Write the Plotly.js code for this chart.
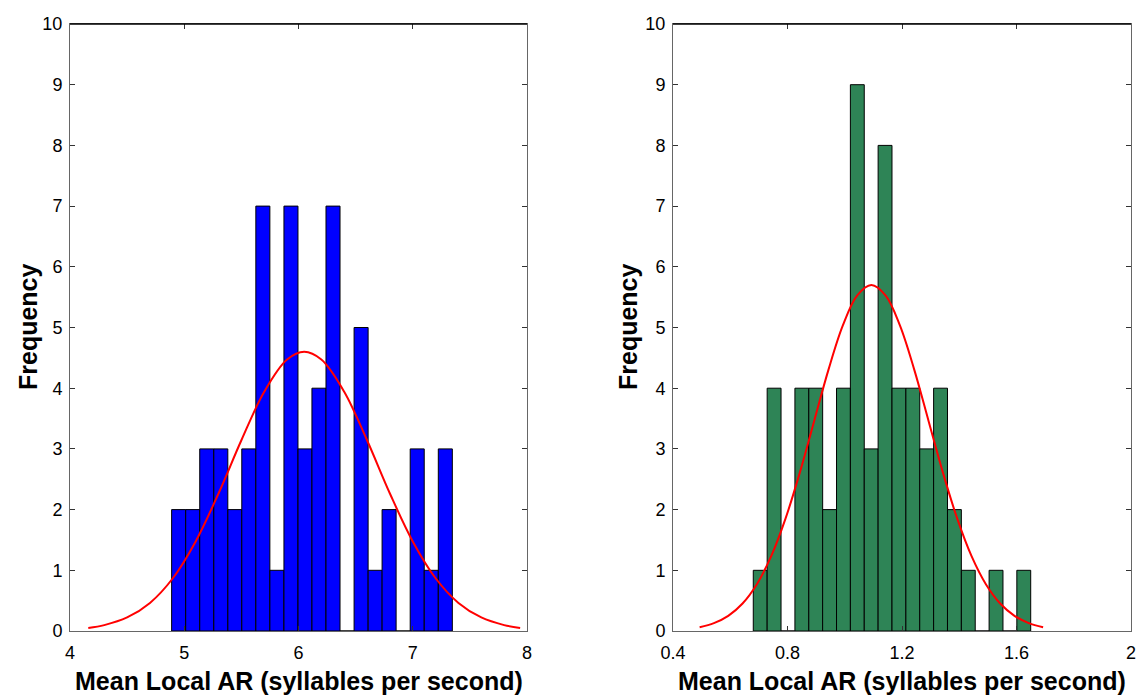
<!DOCTYPE html>
<html>
<head>
<meta charset="utf-8">
<script src="https://cdn.plot.ly/plotly-3.0.1.min.js"></script>
<style>html,body{margin:0;padding:0;background:#fff;}#chart{width:1137px;height:695px;}</style>
</head>
<body>
<div id="chart"></div>
<script>
// Left histogram (bin centres and counts)
const leftBins = [4.951, 5.074, 5.197, 5.320, 5.443, 5.565, 5.688, 5.811, 5.934, 6.057,
                  6.179, 6.302, 6.425, 6.548, 6.671, 6.793, 6.916, 7.039, 7.162, 7.285];
const leftCounts = [2, 2, 3, 3, 2, 3, 7, 1, 7, 3, 4, 7, 0, 5, 1, 2, 0, 3, 1, 3];
// Left fitted curve
const leftCurveX = [4.16, 4.3, 4.5, 4.7, 4.9, 5.1, 5.3, 5.5, 5.7, 5.9, 6.05,
                    6.2, 6.4, 6.6, 6.8, 7.0, 7.2, 7.4, 7.6, 7.8, 7.94];
const leftCurveY = [0.051, 0.097, 0.223, 0.463, 0.869, 1.476, 2.265, 3.142, 3.942, 4.472, 4.6,
                    4.472, 3.942, 3.142, 2.265, 1.476, 0.869, 0.463, 0.223, 0.097, 0.051];

// Right histogram
const rightBins = [0.7047, 0.7532, 0.8016, 0.8501, 0.8986, 0.9470, 0.9955, 1.0439, 1.0924, 1.1408,
                   1.1893, 1.2378, 1.2862, 1.3347, 1.3831, 1.4316, 1.4800, 1.5285, 1.5770, 1.6254];
const rightCounts = [1, 4, 0, 4, 4, 2, 4, 9, 3, 8, 4, 4, 3, 4, 2, 1, 0, 1, 0, 1];
// Right fitted curve
const rightCurveX = [0.493, 0.543, 0.593, 0.643, 0.693, 0.743, 0.793, 0.843, 0.893, 0.943, 0.993, 1.043, 1.093,
                     1.143, 1.193, 1.243, 1.293, 1.343, 1.393, 1.443, 1.493, 1.543, 1.593, 1.643, 1.693];
const rightCurveY = [0.063, 0.130, 0.250, 0.453, 0.771, 1.233, 1.851, 2.609, 3.457, 4.302, 5.030, 5.525, 5.7,
                     5.525, 5.030, 4.302, 3.457, 2.609, 1.851, 1.233, 0.771, 0.453, 0.250, 0.130, 0.063];

// Axis ticks
const yTicks = [0, 1, 2, 3, 4, 5, 6, 7, 8, 9, 10];
const leftXTicks = [4, 5, 6, 7, 8];
const leftXLabels = ['4', '5', '6', '7', '8'];
const rightXTicks = [0.4, 0.8, 1.2, 1.6, 2];
const rightXLabels = ['0.4', '0.8', '1.2', '1.6', '2'];
const xTitle = 'Mean Local AR (syllables per second)';
const yTitle = 'Frequency';

const FONT = 'Liberation Sans, Arial, sans-serif';
const W = 1137, H = 695;
const TICK_SIZE = 18, TITLE_SIZE = 25;

const traces = [
  {type: 'bar', x: leftBins, y: leftCounts, width: 0.1228, xaxis: 'x', yaxis: 'y',
   marker: {color: '#0000FF', line: {color: '#000000', width: 1}}, hoverinfo: 'skip'},
  {type: 'scatter', mode: 'lines', x: leftCurveX, y: leftCurveY, xaxis: 'x', yaxis: 'y',
   line: {color: '#FF0000', width: 2, shape: 'spline'}, hoverinfo: 'skip'},
  {type: 'bar', x: rightBins, y: rightCounts, width: 0.04846, xaxis: 'x2', yaxis: 'y2',
   marker: {color: '#2E8456', line: {color: '#000000', width: 1}}, hoverinfo: 'skip'},
  {type: 'scatter', mode: 'lines', x: rightCurveX, y: rightCurveY, xaxis: 'x2', yaxis: 'y2',
   line: {color: '#FF0000', width: 2, shape: 'spline'}, hoverinfo: 'skip'}
];

const yDom = [64 / H, 671 / H];
function xax(dom, rng, tv, tt) {
  return {domain: dom, range: rng, tickmode: 'array', tickvals: tv, ticktext: tt,
    showgrid: false, zeroline: false, showline: true, linecolor: '#666666', linewidth: 1,
    mirror: 'ticks', ticks: 'inside', ticklen: 5, tickcolor: '#333333',
    tickfont: {family: FONT, size: TICK_SIZE, color: '#000'}, ticklabelstandoff: 5, fixedrange: true};
}
function yax(anchor) {
  return {domain: yDom, range: [0, 10], tickmode: 'array', tickvals: yTicks, anchor: anchor,
    showgrid: false, zeroline: false, showline: true, linecolor: '#666666', linewidth: 1,
    mirror: 'ticks', ticks: 'inside', ticklen: 5, tickcolor: '#333333',
    tickfont: {family: FONT, size: TICK_SIZE, color: '#000'}, ticklabelstandoff: 3, fixedrange: true};
}

const lx0 = 70 / W, lx1 = 527 / W, rx0 = 673 / W, rx1 = 1131 / W;

const layout = {
  width: W, height: H,
  margin: {l: 0, r: 0, t: 0, b: 0},
  paper_bgcolor: '#ffffff', plot_bgcolor: '#ffffff',
  showlegend: false, bargap: 0,
  xaxis: xax([lx0, lx1], [4, 8], leftXTicks, leftXLabels),
  yaxis: yax('x'),
  xaxis2: Object.assign(xax([rx0, rx1], [0.4, 2], rightXTicks, rightXLabels), {anchor: 'y2'}),
  yaxis2: yax('x2'),
  shapes: [
    {type: 'line', xref: 'paper', yref: 'paper', x0: lx0, x1: lx1, y0: yDom[1], y1: yDom[1], line: {color: '#000', width: 1.5}},
    {type: 'line', xref: 'paper', yref: 'paper', x0: rx0, x1: rx1, y0: yDom[1], y1: yDom[1], line: {color: '#000', width: 1.5}}
  ],
  annotations: [
    {xref: 'paper', yref: 'paper', x: (lx0 + lx1) / 2, y: (H - 681) / H, xanchor: 'center', yanchor: 'middle',
     text: '<b>' + xTitle + '</b>', showarrow: false, font: {family: FONT, size: TITLE_SIZE, color: '#000'}},
    {xref: 'paper', yref: 'paper', x: (rx0 + rx1) / 2, y: (H - 681) / H, xanchor: 'center', yanchor: 'middle',
     text: '<b>' + xTitle + '</b>', showarrow: false, font: {family: FONT, size: TITLE_SIZE, color: '#000'}},
    {xref: 'paper', yref: 'paper', x: 28 / W, y: (H - 327) / H, xanchor: 'center', yanchor: 'middle', textangle: -90,
     text: '<b>' + yTitle + '</b>', showarrow: false, font: {family: FONT, size: TITLE_SIZE, color: '#000'}},
    {xref: 'paper', yref: 'paper', x: 628 / W, y: (H - 327) / H, xanchor: 'center', yanchor: 'middle', textangle: -90,
     text: '<b>' + yTitle + '</b>', showarrow: false, font: {family: FONT, size: TITLE_SIZE, color: '#000'}}
  ]
};

Plotly.newPlot('chart', traces, layout, {displayModeBar: false, staticPlot: true});
</script>
</body>
</html>
